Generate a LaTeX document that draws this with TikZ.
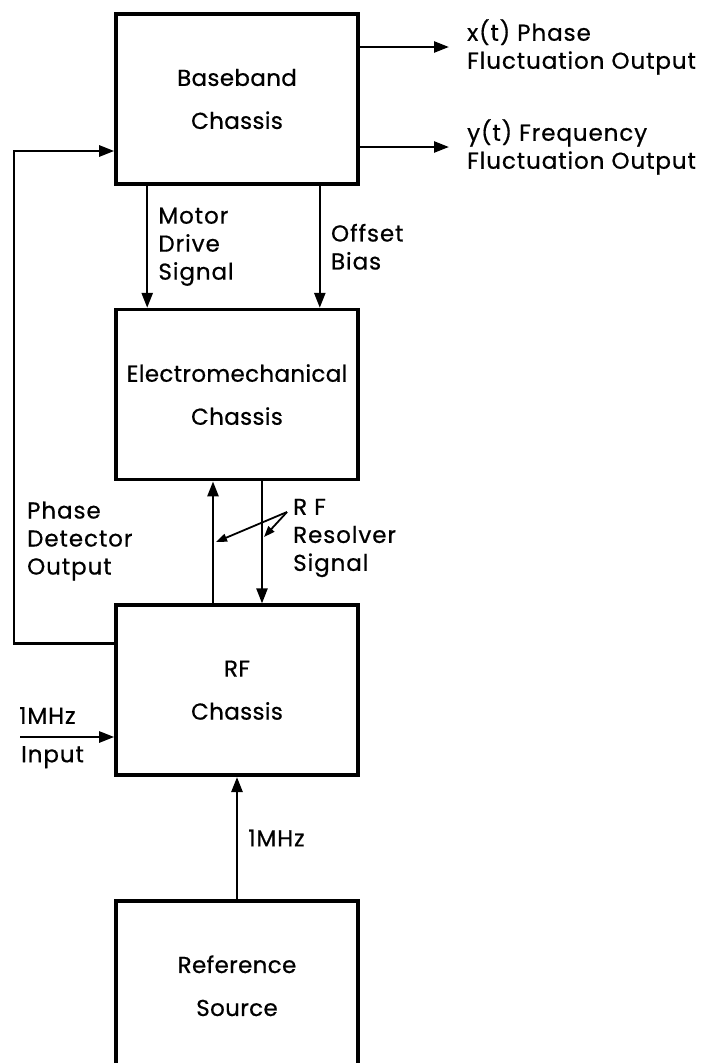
\documentclass[tikz,border=0pt]{standalone}
\usepackage{fontspec}
\setmainfont{Poppins}[FakeBold=0.6]
\usetikzlibrary{positioning, arrows.meta, calc}
\newcommand\chassisfont{\fontsize{23}{43}\selectfont\addfontfeatures{LetterSpace=1.5}}
\newcommand\sigfont{\fontsize{23}{28}\selectfont\addfontfeatures{LetterSpace=4}}
\tikzset{
  chassis/.style = {rectangle, draw, line width=3.6pt, minimum width=242pt,
                    minimum height=170pt, align=center, font=\chassisfont, inner sep=0pt},
  lab/.style     = {font=\sigfont, align=left, inner sep=0pt},
  sig/.style     = {line width=2.5pt, -{Triangle[length=15pt, width=11pt]}},
  ptr/.style     = {line width=1.8pt, -{Triangle[length=11pt, width=8pt]}},
}
\begin{document}
\begin{tikzpicture}
\useasboundingbox (0,0) rectangle (712pt,-1063pt);

% The four chassis, top to bottom
\node (bb)  [chassis] at (237pt,-99pt)  {Baseband\\Chassis};
\node (em)  [chassis, below=122pt of bb] {Electromechanical\\Chassis};
\node (rf)  [chassis, below=122pt of em] {RF\\Chassis};
\node (ref) [chassis, below=122pt of rf] {Reference\\Source};

% Outputs of the baseband chassis
\node (xlab) [lab, anchor=west] at (467pt,-47pt)  {x(t) Phase\\Fluctuation Output};
\node (ylab) [lab, anchor=west] at (467pt,-147pt) {y(t) Frequency\\Fluctuation Output};
\draw [sig] (bb.east |- xlab) -- ([xshift=-18pt]xlab.west);
\draw [sig] (bb.east |- ylab) -- ([xshift=-18pt]ylab.west);

% Baseband to electromechanical
\draw [sig] ([xshift=33pt]bb.south west) -- node (mdlab) [lab, right=10pt] {Motor\\Drive\\Signal} ([xshift=33pt]em.north west);
\draw [sig] ([xshift=-40pt]bb.south east) -- node (oblab) [lab, right=10pt] {Offset\\Bias} ([xshift=-40pt]em.north east);

% RF resolver signal, both ways
\draw [sig] ([xshift=-24pt]rf.north) -- ([xshift=-24pt]em.south);
\draw [sig] ([xshift=25pt]em.south) -- ([xshift=25pt]rf.north);
\node (rflab) [lab, anchor=west] at (293pt,-538pt) {R F\\Resolver\\Signal};
\coordinate (rfp) at (287pt,-512pt);
\coordinate (rfa) at (216pt,-542pt);
\coordinate (rfb) at (264pt,-537pt);
\draw [ptr] (rfp) -- (rfa);
\draw [ptr] (rfp) -- (rfb);

% Phase detector output back to the baseband chassis
\draw [sig] ([yshift=-40pt]rf.north west) -- ++(-100pt,0) |- ([yshift=-52pt]bb.west);
\node (pdlab) [lab, anchor=west] at (27pt,-541pt) {Phase\\Detector\\Output};

% 1 MHz input from outside
\coordinate (mhzin) at (20pt,-737pt);
\draw [sig] (mhzin) -- (mhzin -| rf.west);
\node (inlab)  [lab, above right=13pt and -1pt of mhzin] {1MHz};
\node (inplab) [lab, below right=9pt and 1pt of mhzin] {Input};

% Reference source into RF chassis
\draw [sig] (ref.north) -- node (reflab) [lab, right=10pt] {1MHz} (rf.south);

\end{tikzpicture}
\end{document}
